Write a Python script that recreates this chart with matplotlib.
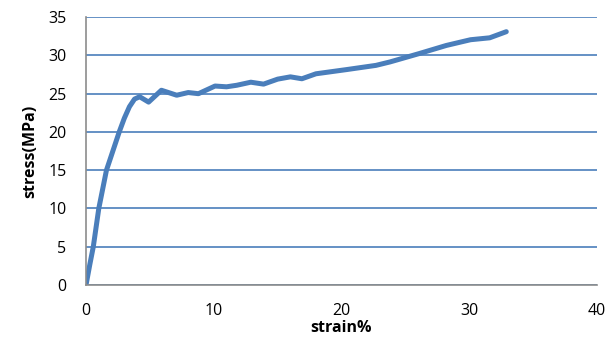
import matplotlib.pyplot as plt

# 应力-应变数据
strain = [0, 0.3, 0.57, 1.0, 1.6, 2.6, 3.0, 3.4, 3.8, 4.2, 4.9, 5.9, 7.1, 8.0, 8.8,
          10.1, 11.0, 11.8, 12.9, 13.9, 15.0, 16.0, 16.9, 18.0, 20.4,
          22.7, 23.8, 26.1, 28.2, 30.1, 31.6, 32.9]
stress = [0, 2.7, 5.0, 10.0, 15.0, 20.0, 21.8, 23.3, 24.3, 24.6, 23.9, 25.45, 24.8, 25.15, 25.0,
          26.0, 25.9, 26.1, 26.5, 26.25, 26.9, 27.2, 26.95, 27.6, 28.15,
          28.7, 29.15, 30.25, 31.3, 32.05, 32.3, 33.1]

x_ticks = [0, 10, 20, 30, 40]
y_ticks = [0, 5, 10, 15, 20, 25, 30, 35]

plt.rcParams['font.family'] = ['Open Sans', 'DejaVu Sans']

fig = plt.figure(figsize=(6.07, 3.43), dpi=100)
ax = fig.add_axes([0.1417, 0.169, 0.8418, 0.781])

blue = '#4A7EBB'
ax.plot(strain, stress, color=blue, lw=3.6, solid_joinstyle='round',
        solid_capstyle='round', zorder=3)

ax.set_xlim(0, 40)
ax.set_ylim(0, 35)
ax.set_xticks(x_ticks)
ax.set_yticks(y_ticks)
ax.tick_params(length=0, labelsize=11.5)
ax.tick_params(axis='y', pad=14)
ax.tick_params(axis='x', pad=13)

ax.grid(axis='y', color=blue, lw=1.2)
ax.set_axisbelow(True)
for s in ['top', 'right']:
    ax.spines[s].set_visible(False)
for s in ['left', 'bottom']:
    ax.spines[s].set_color('#8C8C8C')
    ax.spines[s].set_linewidth(1.2)
    ax.spines[s].set_zorder(4)

ax.set_xlabel('strain%', fontsize=11.5, fontweight='bold', labelpad=1)
ax.set_ylabel('stress(MPa)', fontsize=11.5, fontweight='bold', labelpad=7)

fig.savefig('out.png', dpi=100)
